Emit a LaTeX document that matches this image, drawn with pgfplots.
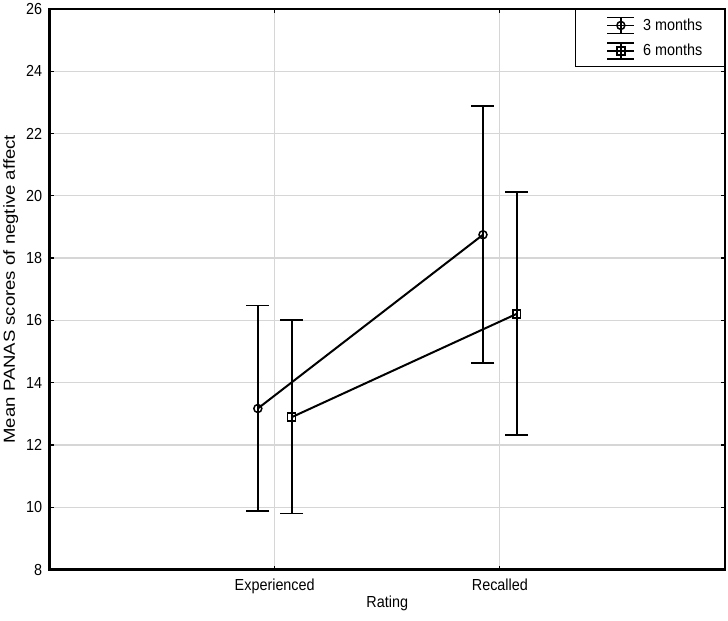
\documentclass[border=0pt]{standalone}
\usepackage{pgfplots}
\pgfplotsset{compat=1.18}
\usepackage{pgfplotstable}
\usepackage{fontspec}
\setmainfont{Liberation Sans}[FakeStretch=0.9]
\newfontfamily\ylabfont{Liberation Sans}[FakeStretch=1.16]

% x: category position (1 = Experienced, 2 = Recalled), offset per series
\pgfplotstableread{
x     y     ep    em
0.925 13.17 3.31  3.29
1.925 18.75 4.14  4.12
}\threemonths
\pgfplotstableread{
x     y     ep    em
1.075 12.89 3.12  3.09
2.075 16.21 3.92  3.90
}\sixmonths

\begin{document}
\begin{tikzpicture}[font=\fontsize{16bp}{19bp}\selectfont]
\begin{axis}[
    scale only axis,
    width=676bp, height=561bp,
    xmin=0, xmax=3,
    ymin=8, ymax=26,
    xtick={1,2},
    xticklabels={Experienced,Recalled},
    ytick={8,10,...,26},
    /pgf/number format/assume math mode=true,
    tick style={black, line width=1.2bp},
    major tick length=4bp,
    axis line style={line width=2.4bp},
    grid=major,
    grid style={line width=1.2bp, gray!32},
    yticklabel style={xshift=-4bp},
    xticklabel style={yshift=-6bp},
    xlabel={Rating},
    xlabel style={yshift=5bp},
    ylabel={\ylabfont Mean PANAS scores of negtive affect},
    ylabel style={yshift=1bp},
    legend cell align=left,
    legend style={at={(1,1)}, anchor=north east, draw=black, line width=1.5bp,
        inner xsep=20bp, inner ysep=7bp, row sep=8bp},
    legend image code/.code={
        \path (0bp,0bp);
        \draw[line width=1.5bp] (11bp,0bp) -- (38bp,0bp);
        \draw[line width=1.5bp] (11bp,8bp) -- (38bp,8bp);
        \draw[line width=1.5bp] (11bp,-8bp) -- (38bp,-8bp);
        \draw[line width=1.5bp] (24.5bp,-8bp) -- (24.5bp,8bp);
        \draw[#1, mark repeat=1] plot coordinates {(24.5bp,0bp)};
    },
]
\addplot[black, line width=2bp, mark=o, mark size=4bp,
    mark options={line width=1.5bp, fill=white},
    error bars/.cd, y dir=both, y explicit,
    error bar style={line width=1.8bp},
    error mark options={rotate=90, mark size=11.5bp, line width=1.8bp}]
    table[x=x, y=y, y error plus=ep, y error minus=em] {\threemonths};
\addlegendentry{\hspace{6bp}3 months\hspace{7bp}}
\addplot[black, line width=2bp, mark=square, mark size=4bp,
    mark options={line width=1.5bp, fill=white},
    error bars/.cd, y dir=both, y explicit,
    error bar style={line width=1.8bp},
    error mark options={rotate=90, mark size=11.5bp, line width=1.8bp}]
    table[x=x, y=y, y error plus=ep, y error minus=em] {\sixmonths};
\addlegendentry{\hspace{6bp}6 months\hspace{7bp}}
\coordinate (bl) at (rel axis cs:0,0);
\coordinate (tr) at (rel axis cs:1,1);
\end{axis}
\path ([shift={(-49bp,-51bp)}]bl) rectangle ([shift={(3bp,6bp)}]tr);
\end{tikzpicture}
\end{document}
